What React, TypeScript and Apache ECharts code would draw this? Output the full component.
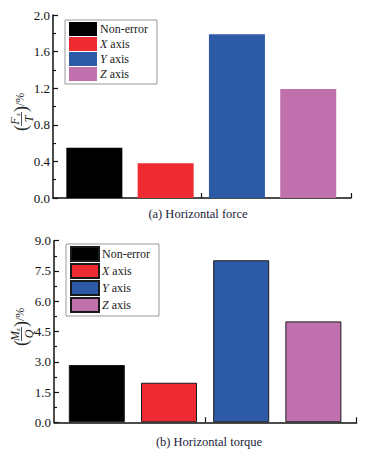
import React, { useEffect, useRef } from "react";
import * as echarts from "echarts";

const categories = ["Non-error", "X axis", "Y axis", "Z axis"];
const barColors = ["#000000", "#ee2b33", "#2d5aa7", "#c070ad"];
const forceValues = [0.55, 0.38, 1.79, 1.19];
const torqueValues = [2.84, 1.96, 8.03, 5.0];
const forceAxis = { min: 0, max: 2.0, interval: 0.4 };
const torqueAxis = { min: 0, max: 9.0, interval: 1.5 };
const titles = ["(a) Horizontal force", "(b) Horizontal torque"];

const SERIF = "'Liberation Serif', 'DejaVu Serif', serif";

type PanelCfg = {
  values: number[];
  yAxisCfg: { min: number; max: number; interval: number };
  grid: { left: number; top: number; width: number; height: number };
  xMin: number;
  xMax: number;
  bordered: boolean;
  legendPos: { left: number; top: number };
  title: string;
  titlePos: { x: number; y: number };
  yName: { x: number; y: number; num: string; den: string };
};

function buildOption(c: PanelCfg): any {
  const series = categories.map((name, i) => ({
    name,
    type: "bar",
    data: [[i + 1, c.values[i]]],
    barWidth: 56,
    barGap: "-100%",
    itemStyle: {
      color: barColors[i],
      borderColor: c.bordered ? "#1a1a1a" : barColors[i],
      borderWidth: c.bordered ? 1 : 0,
    },
  }));
  const yn = c.yName;
  const txt = (text: string, x: number, y: number, size: number, italic: boolean, align = "left") => ({
    type: "text",
    x,
    y,
    style: {
      text,
      fontFamily: SERIF,
      fontSize: size,
      fontStyle: italic ? "italic" : "normal",
      fill: "#222",
      align,
      verticalAlign: "middle",
    },
  });
  return {
    animation: false,
    grid: { ...c.grid, containLabel: false },
    legend: {
      orient: "vertical",
      left: c.legendPos.left,
      top: c.legendPos.top,
      itemWidth: 28,
      itemHeight: 14,
      itemGap: 1,
      icon: "rect",
      padding: [2, 9, 3, 4],
      borderColor: "#999999",
      borderWidth: 1,
      backgroundColor: "#ffffff",
      data: categories,
      formatter: (name: string) => {
        const parts = name.split(" ");
        if (parts.length === 2 && parts[1] === "axis") return `{i|${parts[0]}} {n|axis}`;
        return `{n|${name}}`;
      },
      textStyle: {
        fontFamily: SERIF,
        fontSize: 12,
        color: "#1a1a1a",
        padding: [0, 0, 0, -2],
        rich: {
          i: { fontFamily: SERIF, fontSize: 12, fontStyle: "italic", color: "#1a1a1a" },
          n: { fontFamily: SERIF, fontSize: 12, color: "#1a1a1a" },
        },
      },
    },
    xAxis: {
      type: "value",
      min: c.xMin,
      max: c.xMax,
      axisLine: { show: true, onZero: false, lineStyle: { color: "#111", width: 1.5 } },
      axisTick: {
        show: true,
        inside: true,
        length: 5,
        customValues: [2.5, c.xMax],
        lineStyle: { color: "#111", width: 1.2 },
      },
      axisLabel: { show: false },
      splitLine: { show: false },
    },
    yAxis: {
      type: "value",
      min: c.yAxisCfg.min,
      max: c.yAxisCfg.max,
      interval: c.yAxisCfg.interval,
      axisLine: { show: true, lineStyle: { color: "#111", width: 1.5 } },
      axisTick: { show: true, inside: true, length: 5, lineStyle: { color: "#111", width: 1.2 } },
      minorTick: { show: true, splitNumber: 2, length: 3, lineStyle: { color: "#111", width: 1.2 } },
      splitLine: { show: false },
      axisLabel: {
        margin: 3,
        fontFamily: SERIF,
        fontSize: 13,
        color: "#111",
        formatter: (v: number) => v.toFixed(1),
      },
    },
    series,
    graphic: [
      {
        type: "text",
        x: c.titlePos.x,
        y: c.titlePos.y,
        style: {
          text: c.title,
          fontFamily: SERIF,
          fontSize: 12.5,
          fill: "#1b1b3a",
          align: "center",
          verticalAlign: "middle",
        },
      },
      {
        type: "group",
        x: yn.x,
        y: yn.y,
        rotation: Math.PI / 2,
        children: [
          txt("(", -22, 0, 18, false),
          txt(yn.num, -12, -6.5, 12, true, "center"),
          txt("z", -7, -3, 7, true),
          {
            type: "line",
            shape: { x1: -17, y1: 0.5, x2: -3, y2: 0.5 },
            style: { stroke: "#222", lineWidth: 0.8 },
          },
          txt(yn.den, -10, 7.5, 12, true, "center"),
          txt(")", -3, 0, 18, false),
          txt("/%", 3, -1, 12, false),
        ],
      },
    ],
  };
}

function Panel({ cfg, top, height }: { cfg: PanelCfg; top: number; height: number }) {
  const ref = useRef<HTMLDivElement>(null);
  useEffect(() => {
    if (!ref.current) return;
    const chart = echarts.init(ref.current, undefined, { renderer: "svg" });
    chart.setOption(buildOption(cfg));
    return () => chart.dispose();
  }, []);
  return (
    <div
      ref={ref}
      style={{ position: "absolute", left: 0, top, width: 387, height }}
    />
  );
}

export default function App() {
  const top: PanelCfg = {
    values: forceValues,
    yAxisCfg: forceAxis,
    grid: { left: 53, top: 15, width: 298, height: 183 },
    xMin: 0.42,
    xMax: 4.6,
    bordered: false,
    legendPos: { left: 65, top: 20 },
    title: titles[0],
    titlePos: { x: 198, y: 214 },
    yName: { x: 21, y: 109, num: "F", den: "T" },
  };
  const bottom: PanelCfg = {
    values: torqueValues,
    yAxisCfg: torqueAxis,
    grid: { left: 54, top: 13.7, width: 302.7, height: 181.6 },
    xMin: 0.407,
    xMax: 4.6,
    bordered: true,
    legendPos: { left: 66, top: 17 },
    title: titles[1],
    titlePos: { x: 209, y: 215 },
    yName: { x: 21, y: 97, num: "M", den: "Q" },
  };
  return (
    <div style={{ position: "absolute", left: 0, top: 0, width: 387, height: 455, background: "#fff" }}>
      <Panel cfg={top} top={0} height={227} />
      <Panel cfg={bottom} top={227} height={228} />
    </div>
  );
}
